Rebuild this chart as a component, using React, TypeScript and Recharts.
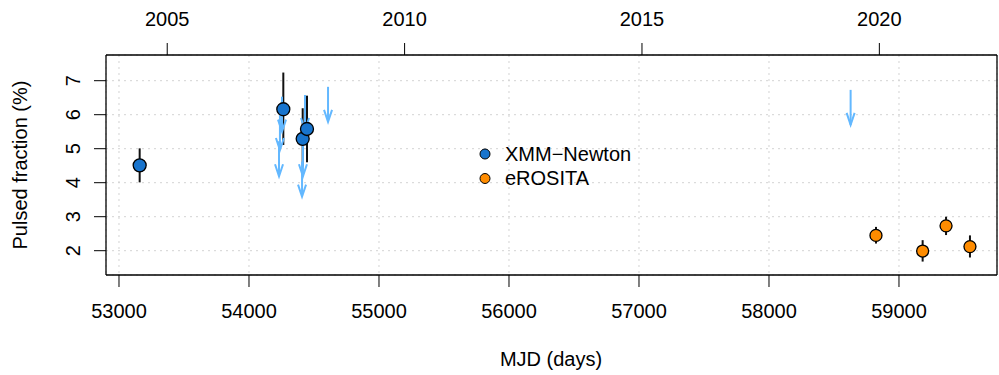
import { ScatterChart, Scatter, XAxis, YAxis, CartesianGrid, ErrorBar } from 'recharts';

// bottom / top / left axis ticks
const mjdTicks = [53000, 54000, 55000, 56000, 57000, 58000, 59000];
const yearTicks = [2005, 2010, 2015, 2020];
const pfTicks = [2, 3, 4, 5, 6, 7];

// XMM-Newton detections
const xmmMjd = [53159, 54264, 54413, 54446];
const xmmPf = [4.51, 6.16, 5.29, 5.58];
const xmmErrLo = [0.5, 1.05, 0.82, 0.98];
const xmmErrHi = [0.5, 1.08, 0.9, 0.98];

// eROSITA detections
const eroMjd = [58823, 59182, 59362, 59546];
const eroPf = [2.45, 1.99, 2.73, 2.12];
const eroErrLo = [0.24, 0.31, 0.27, 0.32];
const eroErrHi = [0.25, 0.32, 0.27, 0.33];

// XMM-Newton upper limits
const ulMjd = [54254, 54238, 54231, 54431, 54415, 54408, 54608, 58628];
const ulPf = [6.53, 5.99, 5.22, 6.58, 5.22, 4.62, 6.82, 6.73];

const BLUE = '#1874CD';
const ORANGE = '#FF8C00';
const LIGHTBLUE = '#63B8FF';
const FONT = '"Liberation Sans", Arial, Helvetica, sans-serif';

const yearToMjd = (y: number) => Date.UTC(y, 0, 1) / 86400000 + 40587;
const yearMjdTicks = yearTicks.map(yearToMjd);

const xmmData = xmmMjd.map((x, i) => ({ x, y: xmmPf[i], err: [xmmErrLo[i], xmmErrHi[i]] }));
const eroData = eroMjd.map((x, i) => ({ x, y: eroPf[i], err: [eroErrLo[i], eroErrHi[i]] }));
const ulData = ulMjd.map((x, i) => ({ x, y: ulPf[i] }));

const X_DOMAIN: [number, number] = [52900, 59754];
const Y_DOMAIN: [number, number] = [1.285, 7.756];

const makeDot = (fill: string, r: number) => (props: any) => {
    const { cx, cy } = props;
    if (cx == null || cy == null) return <g />;
    return <circle cx={cx} cy={cy} r={r} fill={fill} stroke="#000" strokeWidth={1.3} />;
};

const Arrow = (props: any) => {
    const { cx, cy } = props;
    if (cx == null || cy == null) return <g />;
    return (
        <g stroke={LIGHTBLUE} strokeWidth={2} fill="none">
            <line x1={cx} y1={cy} x2={cx} y2={cy + 35} />
            <polyline points={`${cx - 4},${cy + 23} ${cx},${cy + 35} ${cx + 4},${cy + 23}`} />
        </g>
    );
};

const PfTick = (props: any) => {
    const { x, y, payload } = props;
    const bx = x - 12;
    return (
        <text x={bx} y={y} transform={`rotate(-90, ${bx}, ${y})`} textAnchor="middle"
            fontSize={20} fontFamily={FONT} fill="#000">
            {payload.value}
        </text>
    );
};

const yearLabel = (v: number) => {
    const i = yearMjdTicks.indexOf(v);
    return i >= 0 ? String(yearTicks[i]) : '';
};

const App = () => {
    const tickStyle = { fontSize: 20, fontFamily: FONT, fill: '#000' };
    return (
        <div style={{ position: 'relative', width: 999, height: 375 }}>
            <style>{'body{margin:0}'}</style>
            <ScatterChart width={999} height={375} margin={{ top: 15, right: 1, bottom: 40, left: 46 }}>
                <CartesianGrid xAxisId="mjd" yAxisId="pf" stroke="#d3d3d3" strokeDasharray="2 4" />
                <XAxis xAxisId="mjd" dataKey="x" type="number" domain={X_DOMAIN} allowDataOverflow
                    ticks={mjdTicks} interval={0} orientation="bottom" height={60}
                    tickSize={12} tickMargin={17} tick={tickStyle}
                    stroke="#000" tickLine={{ stroke: '#000' }} axisLine={{ stroke: '#000', strokeWidth: 1.3 }} />
                <XAxis xAxisId="year" dataKey="x" type="number" domain={X_DOMAIN} allowDataOverflow
                    ticks={yearMjdTicks} interval={0} orientation="top" height={40}
                    tickSize={12} tickMargin={17} tick={tickStyle} tickFormatter={yearLabel}
                    stroke="#000" tickLine={{ stroke: '#000' }} axisLine={{ stroke: '#000', strokeWidth: 1.3 }} />
                <YAxis yAxisId="pf" dataKey="y" type="number" domain={Y_DOMAIN} allowDataOverflow
                    ticks={pfTicks} interval={0} orientation="left" width={60}
                    tickSize={12} tick={<PfTick />}
                    stroke="#000" tickLine={{ stroke: '#000' }} axisLine={{ stroke: '#000', strokeWidth: 1.3 }} />
                <YAxis yAxisId="right" dataKey="y" type="number" domain={Y_DOMAIN} allowDataOverflow
                    orientation="right" width={1}
                    tick={false} tickLine={false} axisLine={{ stroke: '#000', strokeWidth: 1.3 }} />
                <Scatter name="upper limits" data={ulData} xAxisId="year" yAxisId="right"
                    shape={Arrow} isAnimationActive={false} />
                <Scatter name="XMM−Newton" data={xmmData} xAxisId="mjd" yAxisId="pf"
                    shape={makeDot(BLUE, 6.5)} isAnimationActive={false}>
                    <ErrorBar dataKey="err" direction="y" width={0} stroke="#111" strokeWidth={2} />
                </Scatter>
                <Scatter name="eROSITA" data={eroData} xAxisId="mjd" yAxisId="pf"
                    shape={makeDot(ORANGE, 6)} isAnimationActive={false}>
                    <ErrorBar dataKey="err" direction="y" width={0} stroke="#111" strokeWidth={2} />
                </Scatter>
            </ScatterChart>
            <svg width={999} height={375} style={{ position: 'absolute', left: 0, top: 0, pointerEvents: 'none' }}
                fontFamily={FONT} fontSize={20}>
                <text x={551} y={366} textAnchor="middle" fill="#000">MJD (days)</text>
                <text x={27} y={165} textAnchor="middle" fill="#000" transform="rotate(-90, 27, 165)">
                    Pulsed fraction (%)
                </text>
                <circle cx={485} cy={154} r={5} fill={BLUE} stroke="#000" strokeWidth={1} />
                <text x={505} y={160.5} fill="#000">XMM−Newton</text>
                <circle cx={485} cy={178.5} r={5} fill={ORANGE} stroke="#000" strokeWidth={1} />
                <text x={505} y={185} fill="#000">eROSITA</text>
            </svg>
        </div>
    );
};

export default App;
